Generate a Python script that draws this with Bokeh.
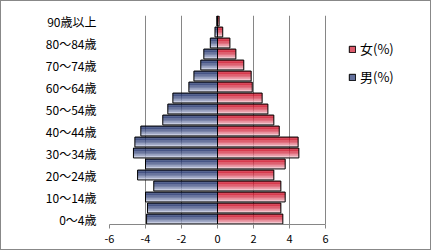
import numpy as np
from bokeh.plotting import figure
from bokeh.models import FixedTicker, Legend, LegendItem
from bokeh.embed import file_html
from bokeh.resources import INLINE

# ---- data ----
ages = ["0〜4歳", "5〜9歳", "10〜14歳", "15〜19歳", "20〜24歳", "25〜29歳",
        "30〜34歳", "35〜39歳", "40〜44歳", "45〜49歳", "50〜54歳", "55〜59歳",
        "60〜64歳", "65〜69歳", "70〜74歳", "75〜79歳", "80〜84歳", "85〜89歳",
        "90歳以上"]
male = [-3.94, -3.89, -4.00, -3.54, -4.44, -4.00, -4.67, -4.59, -4.26, -3.04,
        -2.76, -2.48, -1.59, -1.31, -0.93, -0.76, -0.40, -0.14, -0.04]
female = [3.63, 3.52, 3.76, 3.52, 3.13, 3.76, 4.52, 4.48, 3.43, 3.13,
          2.80, 2.48, 1.93, 1.87, 1.46, 1.02, 0.69, 0.29, 0.09]
x_ticks = [-6, -4, -2, 0, 2, 4, 6]
x_tick_labels = ["-6", "-4", "-2", "0", "2", "4", "6"]
legend_labels = ["女(%)", "男(%)"]

FONT = "Noto Sans CJK JP"

W, H = 431, 250
LEFT, RIGHT, TOP, BOTTOM = 108, 2, 14, 27
PX_PER_UNIT = 18.0
x_end = x_ticks[0] + (W - LEFT - RIGHT) / PX_PER_UNIT

p = figure(width=W, height=H, x_range=(x_ticks[0], x_end),
           y_range=(-0.5, len(ages) - 0.5),
           output_backend="svg", toolbar_location=None,
           min_border_left=LEFT, min_border_right=RIGHT,
           min_border_top=TOP, min_border_bottom=BOTTOM)
p.styles = {"border": "1px solid #888888"}
p.outline_line_color = None
p.background_fill_color = "white"
p.border_fill_color = "white"

idx = np.arange(len(ages))
male_a = np.array(male)
female_a = np.array(female)

def lerp(c1, c2, t):
    return "#%02x%02x%02x" % tuple(int(round(a + (b - a) * t)) for a, b in zip(c1, c2))

red_top, red_bot = (204, 10, 34), (246, 212, 220)
blue_top, blue_bot = (26, 44, 104), (210, 216, 236)

h = 0.9
N = 14
for k in range(N):
    t = (k / (N - 1)) ** 1.8
    off = h / 2 - (k + 0.5) * h / N
    p.hbar(y=idx + off, left=male_a, right=0, height=h / N * 1.08,
           fill_color=lerp(blue_top, blue_bot, t), line_color=None)
    p.hbar(y=idx + off, left=0, right=female_a, height=h / N * 1.08,
           fill_color=lerp(red_top, red_bot, t), line_color=None)

p.hbar(y=idx, left=male_a, right=0, height=h, fill_color=None,
       line_color="black", line_width=1)
p.hbar(y=idx, left=0, right=female_a, height=h, fill_color=None,
       line_color="black", line_width=1)

# legend-only renderers (no visible data)
r_f = p.hbar(y=[-100], left=[0], right=[0], height=1,
             fill_color=lerp(red_top, red_bot, 0.4), line_color="black")
r_m = p.hbar(y=[-100], left=[0], right=[0], height=1,
             fill_color=lerp(blue_top, blue_bot, 0.4), line_color="black")
legend = Legend(items=[LegendItem(label=legend_labels[0], renderers=[r_f]),
                       LegendItem(label=legend_labels[1], renderers=[r_m])],
                location=(239, 138), padding=0, margin=0, spacing=9,
                glyph_width=8, glyph_height=8, label_height=16,
                label_standoff=4, label_text_font=FONT,
                label_text_font_size="13px", label_text_color="black",
                border_line_color=None, background_fill_alpha=0)
p.add_layout(legend)

# grid
p.xgrid.ticker = FixedTicker(ticks=x_ticks)
p.xgrid.grid_line_color = "#868686"
p.ygrid.grid_line_color = None

# x axis
p.xaxis.ticker = FixedTicker(ticks=x_ticks)
p.xaxis.bounds = (x_ticks[0], x_ticks[-1])
p.xaxis.major_label_overrides = {t: l for t, l in zip(x_ticks, x_tick_labels)}
p.xaxis.axis_line_color = "#868686"
p.xaxis.major_tick_line_color = "#868686"
p.xaxis.major_tick_out = 4
p.xaxis.major_tick_in = 0
p.xaxis.minor_tick_line_color = None
p.xaxis.major_label_standoff = 6
p.xaxis.major_label_text_font = FONT
p.xaxis.major_label_text_font_size = "11px"
p.xaxis.major_label_text_color = "black"

# y axis
y_ticks = list(range(0, len(ages), 2))
p.yaxis.ticker = FixedTicker(ticks=y_ticks)
p.yaxis.major_label_overrides = {i: ages[i] for i in y_ticks}
p.yaxis.axis_line_color = None
p.yaxis.major_tick_line_color = None
p.yaxis.minor_tick_line_color = None
p.yaxis.major_tick_out = 0
p.yaxis.major_label_standoff = 13
p.yaxis.major_label_text_font = FONT
p.yaxis.major_label_text_font_size = "12px"
p.yaxis.major_label_text_color = "black"

open("out.html", "w").write(file_html(p, INLINE))
